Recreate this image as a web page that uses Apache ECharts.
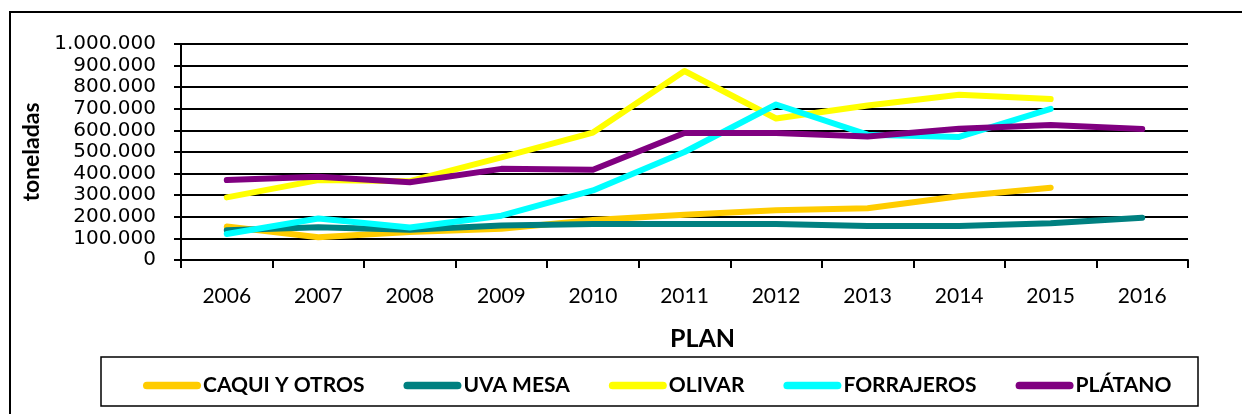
<!DOCTYPE html>
<html>
<head>
<meta charset="utf-8">
<script src="https://cdn.jsdelivr.net/npm/echarts@6/dist/echarts.min.js"></script>
<style>
  html, body { margin: 0; padding: 0; background: #fff; }
  #chart { width: 1242px; height: 414px; }
</style>
</head>
<body>
<div id="chart"></div>
<script>
// ---- data ----
const years = ['2006', '2007', '2008', '2009', '2010', '2011', '2012', '2013', '2014', '2015', '2016']
const caqui = [155000, 105000, 130000, 145000, 185000, 210000, 230000, 240000, 295000, 335000, null]
const uvaMesa = [138000, 152000, 140000, 160000, 167000, 167000, 167000, 157000, 157000, 170000, 196000]
const olivar = [290000, 370000, 365000, 475000, 590000, 875000, 655000, 715000, 765000, 745000, null]
const forrajeros = [120000, 192000, 150000, 205000, 322000, 500000, 720000, 580000, 570000, 700000, null]
const platano = [370000, 385000, 360000, 422000, 418000, 588000, 588000, 572000, 608000, 625000, 606000]

const seriesDefs = [
  { name: 'CAQUI Y OTROS', data: caqui, color: '#FFCC00' },
  { name: 'UVA MESA', data: uvaMesa, color: '#008080' },
  { name: 'OLIVAR', data: olivar, color: '#FFFF00' },
  { name: 'FORRAJEROS', data: forrajeros, color: '#00FFFF' },
  { name: 'PLÁTANO', data: platano, color: '#800080' }
]

const FONT = 'Lato, "Open Sans", sans-serif'
const fmt = v => String(v).replace(/\B(?=(\d{3})+(?!\d))/g, '.')

const chart = echarts.init(document.getElementById('chart'), null, { renderer: 'canvas' })

chart.setOption({
  animation: false,
  backgroundColor: '#fff',
  grid: { left: 181, right: 54, top: 44, bottom: 154 },
  graphic: [
    // outer frame (right/bottom edges fall outside the picture)
    { type: 'rect', shape: { x: 10, y: 12, width: 1400, height: 600 },
      style: { fill: null, stroke: '#000', lineWidth: 2 }, silent: true },
    // legend box
    { type: 'rect', shape: { x: 101, y: 357, width: 1097, height: 49 },
      style: { fill: null, stroke: '#000', lineWidth: 1.5 }, silent: true }
  ],
  legend: {
    left: 138,
    top: 370,
    itemWidth: 58,
    itemHeight: 8,
    itemGap: 39,
    icon: 'path://M4,0 H56 A4,4 0 0 1 56,8 H4 A4,4 0 0 1 4,0 Z',
    textStyle: { fontFamily: FONT, fontWeight: 'bold', fontSize: 21, color: '#000', padding: [0, 0, 0, -3] },
    data: seriesDefs.map(s => s.name)
  },
  xAxis: {
    type: 'category',
    data: years,
    boundaryGap: true,
    name: 'PLAN',
    nameLocation: 'middle',
    nameGap: 66,
    nameTextStyle: { fontFamily: FONT, fontWeight: 'bold', fontSize: 25, color: '#000', padding: [0, 0, 0, 36] },
    axisLine: { lineStyle: { color: '#000', width: 2 } },
    axisTick: { show: true, length: 8, lineStyle: { color: '#000', width: 2 } },
    axisLabel: { margin: 26, fontFamily: FONT, fontSize: 21, color: '#000' },
    splitLine: { show: false }
  },
  yAxis: {
    type: 'value',
    min: 0,
    max: 1000000,
    interval: 100000,
    name: 'toneladas',
    nameLocation: 'middle',
    nameRotate: 90,
    nameGap: 133,
    nameTextStyle: { fontFamily: FONT, fontWeight: 'bold', fontSize: 23, color: '#000' },
    axisLine: { show: true, lineStyle: { color: '#000', width: 2 } },
    axisTick: { show: true, length: 7, lineStyle: { color: '#000', width: 2 } },
    axisLabel: {
      margin: 25, fontFamily: '"DejaVu Sans", sans-serif', fontSize: 20, color: '#000', formatter: fmt,
      showMinLabel: true, showMaxLabel: true
    },
    splitLine: { show: true, lineStyle: { color: '#000', width: 2 } }
  },
  series: seriesDefs.map(s => ({
    name: s.name,
    type: 'line',
    data: s.data,
    color: s.color,
    showSymbol: false,
    symbol: 'none',
    connectNulls: false,
    lineStyle: { width: 6, color: s.color, cap: 'round', join: 'round' }
  }))
})
</script>
</body>
</html>
